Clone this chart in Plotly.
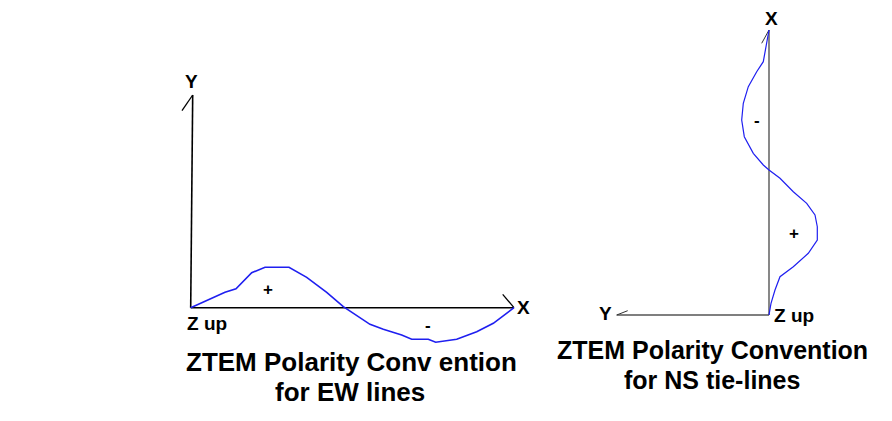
import plotly.graph_objects as go

# EW line profile: distance along line (x) and Hz amplitude (+ up)
ew_dist = [0, 34.3, 45.3, 61, 74.3, 98.3, 116, 136, 152.6, 179.3, 192.6, 211, 221, 237.6, 245, 266, 286, 302.6, 323.3]
ew_amp = [0, 15.4, 19, 35, 40.4, 40.4, 30.4, 15.4, 1, -16.6, -21.6, -27.3, -31.6, -31.6, -34.6, -31.6, -24, -15.6, 0]

# NS tie-line profile: distance along line (vertical) and amplitude (+ to the right)
ns_dist = [0, 11.7, 25, 38.3, 48.3, 61.7, 75, 88.3, 100, 111.7, 123.3, 136.7, 145, 150, 161.7, 178.3, 195, 211.7, 228.3, 243.3, 253.3, 271.7, 285]
ns_amp = [0, 2, 6, 11, 24.3, 39.3, 48.3, 48.3, 46, 37.7, 24.3, 11, 0, -5.7, -15.7, -24.7, -27.3, -25.7, -20.7, -12.3, -5.7, -2.3, 0]

titles = ["ZTEM Polarity Conv ention", "for EW lines", "ZTEM Polarity Convention", "for NS tie-lines"]

W, H = 892, 421
BLUE = "#1f1ff0"
fig = go.Figure()

# ---- Left diagram (EW) on xaxis/yaxis ----
ax_line = dict(color="black", width=1.6)
fig.add_trace(go.Scatter(x=[0, 323.3], y=[0, 0], mode="lines", line=ax_line, xaxis="x", yaxis="y"))
fig.add_trace(go.Scatter(x=[0, 2], y=[0, 212.7], mode="lines", line=ax_line, xaxis="x", yaxis="y"))
fig.add_trace(go.Scatter(x=[-8.7, 2], y=[197, 212.7], mode="lines", line=dict(color="black", width=1.3), xaxis="x", yaxis="y"))
fig.add_trace(go.Scatter(x=[312, 323.3], y=[13.4, 0], mode="lines", line=dict(color="black", width=1.3), xaxis="x", yaxis="y"))
fig.add_trace(go.Scatter(x=ew_dist, y=ew_amp, mode="lines", line=dict(color=BLUE, width=1.6), xaxis="x", yaxis="y"))

# ---- Right diagram (NS) on xaxis2/yaxis2 ----
g_line = dict(color="#555555", width=1.4)
fig.add_trace(go.Scatter(x=[0, 0], y=[0, 285], mode="lines", line=g_line, xaxis="x2", yaxis="y2"))
fig.add_trace(go.Scatter(x=[0, -152.3], y=[0, 0], mode="lines", line=g_line, xaxis="x2", yaxis="y2"))
fig.add_trace(go.Scatter(x=[-152.3, -141.3], y=[0, 4.3], mode="lines", line=dict(color="#333333", width=1), xaxis="x2", yaxis="y2"))
fig.add_trace(go.Scatter(x=[-7.3, 0], y=[271.7, 285], mode="lines", line=dict(color="#333333", width=1), xaxis="x2", yaxis="y2"))
fig.add_trace(go.Scatter(x=ns_amp, y=ns_dist, mode="lines", line=dict(color=BLUE, width=1.2), xaxis="x2", yaxis="y2"))

ann = []
def a(x, y, t, xref, yref, size=19, xanchor="center"):
    ann.append(dict(x=x, y=y, text="<b>%s</b>" % t, xref=xref, yref=yref, showarrow=False,
                    xanchor=xanchor, yanchor="middle",
                    font=dict(family="Liberation Sans, Arial, sans-serif", size=size, color="black")))

a(1, 226, "Y", "x", "y")
a(324, 0, "X", "x", "y", xanchor="left")
a(-6, -16, "Z up", "x", "y", xanchor="left")
a(77, 18.5, "+", "x", "y", size=17)
a(237.6, -17.5, "-", "x", "y", size=17)

a(2, 297, "X", "x2", "y2")
a(-164, 1.7, "Y", "x2", "y2")
a(3, 0, "Z up", "x2", "y2", xanchor="left")
a(-12.3, 195, "-", "x2", "y2", size=17)
a(25.3, 81.7, "+", "x2", "y2", size=17)

a(351 / W, 1 - 362 / H, titles[0], "paper", "paper", size=26)
a(350 / W, 1 - 392 / H, titles[1], "paper", "paper", size=26)
a(712 / W, 1 - 350 / H, titles[2], "paper", "paper", size=25)
a(712 / W, 1 - 380 / H, titles[3], "paper", "paper", size=25)

hid = dict(visible=False, domain=[0, 1], fixedrange=True)
fig.update_layout(
    width=W, height=H, margin=dict(l=0, r=0, t=0, b=0),
    showlegend=False, plot_bgcolor="white", paper_bgcolor="white",
    xaxis=dict(hid, range=[-190.7, W - 190.7]),
    yaxis=dict(hid, range=[-(H - 307.7), 307.7]),
    xaxis2=dict(hid, range=[-769, W - 769], overlaying="x"),
    yaxis2=dict(hid, range=[-(H - 315), 315], overlaying="y"),
    annotations=ann,
)
fig.write_html("out.html", config={"displayModeBar": False},
               post_script="document.body.style.margin='0';document.body.style.overflow='hidden';")
